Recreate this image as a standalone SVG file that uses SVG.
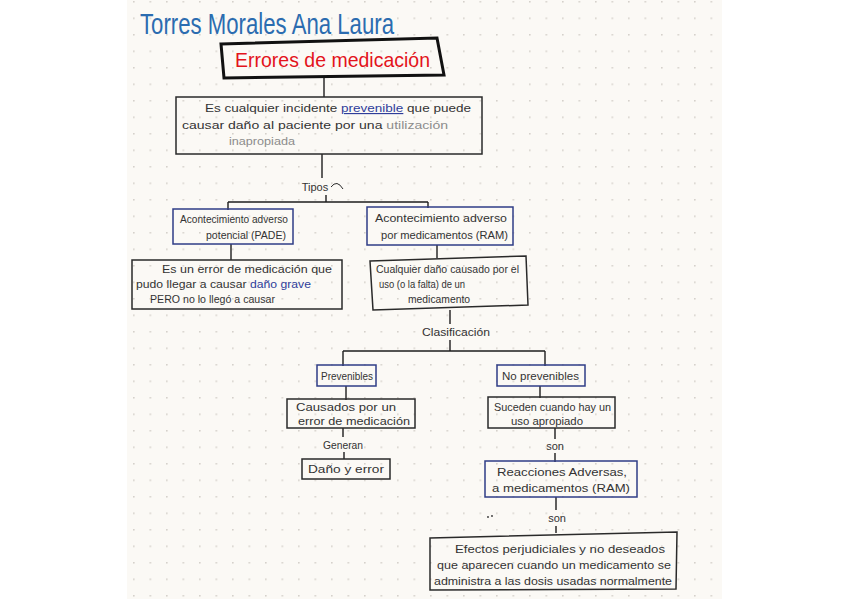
<svg xmlns="http://www.w3.org/2000/svg" width="848" height="599" viewBox="0 0 848 599">
<defs>
<pattern id="dots" x="133" y="1" width="16.5" height="16.5" patternUnits="userSpaceOnUse">
<circle cx="0.8" cy="0.8" r="0.9" fill="#d3cfc8"/>
</pattern>
<style>
.t{font-family:"Liberation Sans",Arial,sans-serif;fill:#333333;font-size:11.5px}
.s{font-size:10.5px}
.bb{fill:none;stroke:#2f3d86;stroke-width:1.5}
.kb{fill:none;stroke:#2a2a2a;stroke-width:1.5}
.ln{fill:none;stroke:#1e1e1e;stroke-width:1.4}
.lbl{font-family:"Liberation Sans",Arial,sans-serif;fill:#333333;font-size:11px;text-anchor:middle}
</style>
</defs>
<rect width="848" height="599" fill="#ffffff"/>
<rect x="127" y="0" width="595" height="599" fill="#fbf9f5"/>
<rect x="127" y="0" width="595" height="599" fill="url(#dots)"/>

<g id="title">
<text x="140" y="34" font-family="Liberation Sans, Arial, sans-serif" font-size="29" fill="#2b6cb0" textLength="254" lengthAdjust="spacingAndGlyphs">Torres Morales Ana Laura</text>
</g>

<g id="connectors">
<path class="ln" d="M324 77 V97" stroke-width="2.5"/>
<path class="ln" d="M322 154 V178" stroke-width="2.5"/>
<path class="ln" d="M326 195 V202 M228 202 H428 M228 202 V210 M428 202 V208"/>
<path class="ln" d="M231 244 V260"/>
<path class="ln" d="M437 245 V258"/>
<path class="ln" d="M450 310 V324 M450 340 V351 M343 351 H545 M343 351 V366 M545 351 V366"/>
<path class="ln" d="M346 386 V400"/>
<path class="ln" d="M540 386 V398"/>
<path class="ln" d="M343 428 V437 M344 452 V459"/>
<path class="ln" d="M555 428 V439 M555 453 V462"/>
<path class="ln" d="M556 497 V510 M556 526 V533" stroke-width="1"/>
</g>

<g id="n_errores">
<path d="M221 44 L437 38 L444 75 L224 78 Z" fill="none" stroke="#111" stroke-width="3"/>
<text x="235" y="67" font-family="Liberation Sans, Arial, sans-serif" font-size="21" fill="#e3131b" textLength="195" lengthAdjust="spacingAndGlyphs">Errores de medicación</text>
</g>

<g id="n_definicion">
<rect class="kb" x="176" y="97" width="306" height="57"/>
<text class="t" x="205" y="112" textLength="266" lengthAdjust="spacingAndGlyphs">Es cualquier incidente <tspan style="fill:#2f3d9a" text-decoration="underline">prevenible</tspan> que puede</text>
<text class="t" x="182" y="129" textLength="266" lengthAdjust="spacingAndGlyphs">causar daño al paciente por una <tspan style="fill:#8c8c8c">utilización</tspan></text>
<text class="t" x="229" y="145" style="fill:#8c8c8c" textLength="66" lengthAdjust="spacingAndGlyphs">inapropiada</text>
</g>

<g id="l_tipos">
<text class="lbl" x="315" y="191" font-size="12">Tipos</text>
<path d="M331 187 Q337 179 343 189" fill="none" stroke="#2a2a2a" stroke-width="1"/>
</g>

<g id="n_pade">
<rect class="bb" x="173" y="209" width="120" height="35"/>
<text class="t s" x="180" y="223" textLength="108" lengthAdjust="spacingAndGlyphs">Acontecimiento adverso</text>
<text class="t s" x="206" y="239" textLength="80" lengthAdjust="spacingAndGlyphs">potencial (PADE)</text>
</g>

<g id="n_ram">
<rect class="bb" x="367" y="207" width="146" height="38"/>
<text class="t" x="375" y="222" textLength="132" lengthAdjust="spacingAndGlyphs">Acontecimiento adverso</text>
<text class="t" x="381" y="239" textLength="127" lengthAdjust="spacingAndGlyphs">por medicamentos (RAM)</text>
</g>

<g id="n_pade_def">
<rect class="kb" x="132" y="260" width="210" height="49"/>
<text class="t" x="162" y="273" textLength="170" lengthAdjust="spacingAndGlyphs">Es un error de medicación que</text>
<text class="t" x="136" y="288" textLength="175" lengthAdjust="spacingAndGlyphs">pudo llegar a causar <tspan style="fill:#2f3d9a">daño grave</tspan></text>
<text class="t s" x="150" y="303" textLength="125" lengthAdjust="spacingAndGlyphs">PERO no lo llegó a causar</text>
</g>

<g id="n_ram_def">
<path class="kb" d="M370 261 L526 256 L528 305 L373 310 Z"/>
<text class="t" x="376" y="273" font-size="11" textLength="143" lengthAdjust="spacingAndGlyphs">Cualquier daño causado por el</text>
<text class="t s" x="379" y="288" textLength="86" lengthAdjust="spacingAndGlyphs">uso (o la falta) de un</text>
<text class="t s" x="408" y="303" textLength="62" lengthAdjust="spacingAndGlyphs">medicamento</text>
</g>

<g id="l_clasificacion">
<text class="lbl" x="456" y="336" textLength="68" lengthAdjust="spacingAndGlyphs">Clasificación</text>
</g>

<g id="n_prevenibles">
<rect class="bb" x="317" y="365" width="59" height="21"/>
<text class="t s" x="321" y="380" textLength="52" lengthAdjust="spacingAndGlyphs">Prevenibles</text>
</g>

<g id="n_noprevenibles">
<rect class="bb" x="497" y="365" width="88" height="21"/>
<text class="t" x="502" y="380" textLength="77" lengthAdjust="spacingAndGlyphs">No prevenibles</text>
</g>

<g id="n_causados">
<rect class="kb" x="287" y="399" width="128" height="29"/>
<text class="t" x="296" y="411" textLength="100" lengthAdjust="spacingAndGlyphs">Causados por un</text>
<text class="t" x="298" y="425" textLength="112" lengthAdjust="spacingAndGlyphs">error de medicación</text>
</g>

<g id="l_generan">
<text class="lbl" x="343" y="449" font-size="10" textLength="40" lengthAdjust="spacingAndGlyphs">Generan</text>
</g>

<g id="n_dano">
<rect class="kb" x="302" y="459" width="88" height="20"/>
<text class="t" x="308" y="473" textLength="76" lengthAdjust="spacingAndGlyphs">Daño y error</text>
</g>

<g id="n_suceden">
<rect class="kb" x="488" y="397" width="127" height="31"/>
<text class="t" x="494" y="411" font-size="11" textLength="117" lengthAdjust="spacingAndGlyphs">Suceden cuando hay un</text>
<text class="t" x="511" y="425" font-size="11" textLength="72" lengthAdjust="spacingAndGlyphs">uso apropiado</text>
</g>

<g id="l_son1">
<text class="lbl" x="555" y="450">son</text>
</g>

<g id="n_reacciones">
<rect class="bb" x="485" y="461" width="152" height="36"/>
<text class="t" x="497" y="476" font-size="13" textLength="130" lengthAdjust="spacingAndGlyphs">Reacciones Adversas,</text>
<text class="t" x="492" y="492" font-size="13" textLength="138" lengthAdjust="spacingAndGlyphs">a medicamentos (RAM)</text>
</g>

<g id="l_son2">
<text class="lbl" x="557" y="522">son</text>
<circle cx="488" cy="517" r="0.9" fill="#333"/>
<circle cx="492" cy="516" r="0.9" fill="#333"/>
</g>

<g id="n_efectos">
<path class="kb" d="M430 538 L677 532 L676 589 L430 590 Z"/>
<text class="t" x="455" y="553" font-size="12" textLength="210" lengthAdjust="spacingAndGlyphs">Efectos perjudiciales y no deseados</text>
<text class="t" x="437" y="569" font-size="12" textLength="234" lengthAdjust="spacingAndGlyphs">que aparecen cuando un medicamento se</text>
<text class="t" x="434" y="585" font-size="12" textLength="238" lengthAdjust="spacingAndGlyphs">administra a las dosis usadas normalmente</text>
</g>
</svg>
